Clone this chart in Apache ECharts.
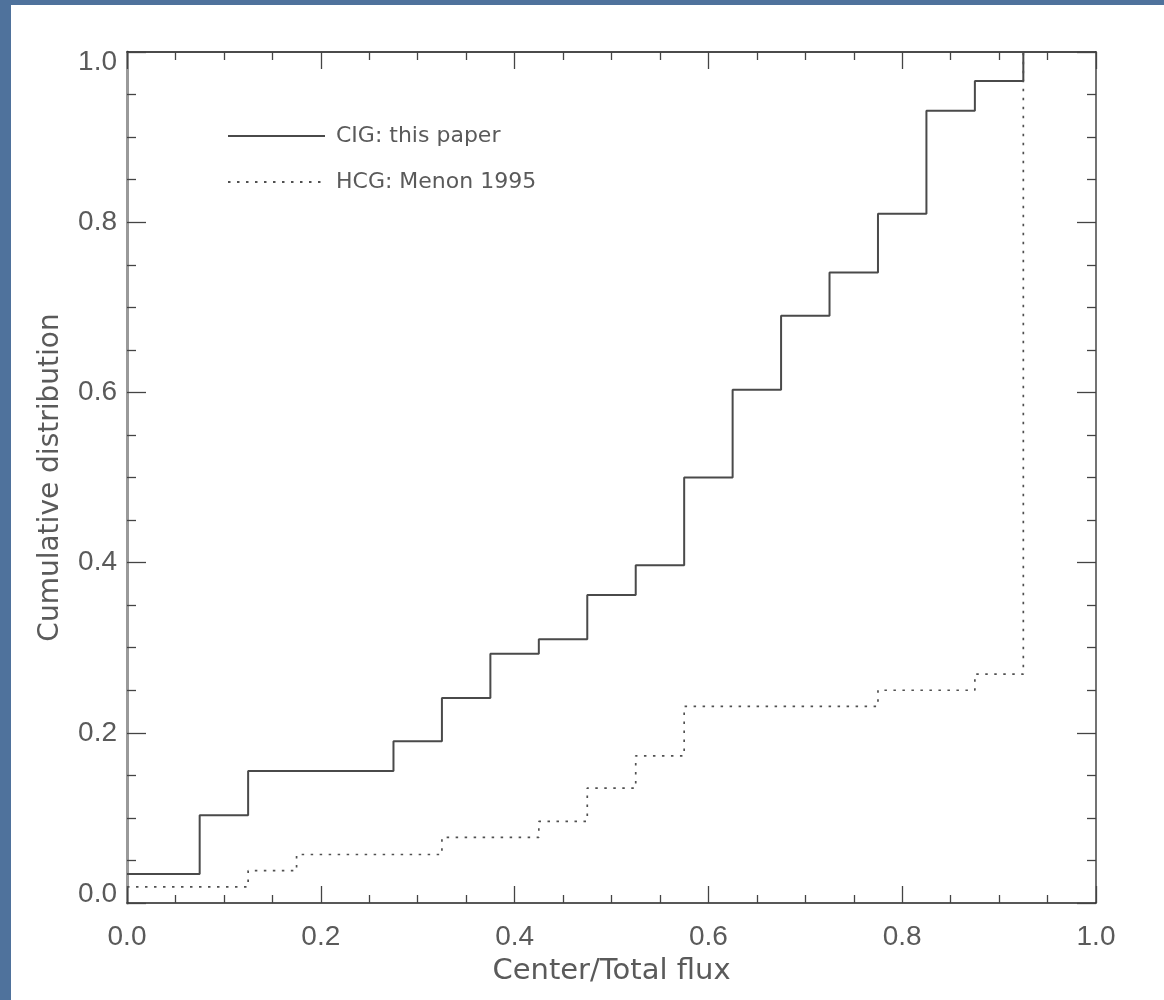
<!DOCTYPE html>
<html>
<head>
<meta charset="utf-8">
<script src="https://cdn.jsdelivr.net/npm/echarts@6/dist/echarts.min.js"></script>
<style>
  html, body { margin: 0; padding: 0; background: #4f729c; }
  #chart { width: 1164px; height: 1000px; }
</style>
</head>
<body>
<div id="chart"></div>
<script>
// ---- data ----
const seriesNames = ['CIG: this paper', 'HCG: Menon 1995'];
// step edges (x) and cumulative level reached at each edge
const cigEdges  = [0, 0.075, 0.125, 0.275, 0.325, 0.375, 0.425, 0.475, 0.525, 0.575, 0.625, 0.675, 0.725, 0.775, 0.825, 0.875, 0.925];
const cigValues = [0.034, 0.103, 0.155, 0.190, 0.241, 0.293, 0.310, 0.362, 0.397, 0.500, 0.603, 0.690, 0.741, 0.810, 0.931, 0.966, 1.000];
const hcgEdges  = [0, 0.125, 0.175, 0.325, 0.425, 0.475, 0.525, 0.575, 0.775, 0.875, 0.925];
const hcgValues = [0.019, 0.038, 0.057, 0.077, 0.096, 0.135, 0.173, 0.231, 0.250, 0.269, 1.000];
const xTickLabels = ['0.0', '0.2', '0.4', '0.6', '0.8', '1.0'];
const yTickLabels = ['0.0', '0.2', '0.4', '0.6', '0.8', '1.0'];
const xAxisTitle = 'Center/Total flux';
const yAxisTitle = 'Cumulative distribution';

const toPoints = (xs, ys) => xs.map((x, i) => [x, ys[i]]);
const labelFor = (arr, v) => arr[Math.round(v / 0.2)];

const chart = echarts.init(document.getElementById('chart'), null, { renderer: 'canvas' });

const textColor = '#5a5a5a';
const tickFont = "'Liberation Sans', Arial, sans-serif";
const titleFont = "'DejaVu Sans', sans-serif";

const hiddenAxisCommon = {
  min: 0, max: 1, interval: 0.2,
  axisLabel: { show: false },
  splitLine: { show: false },
};

chart.setOption({
  backgroundColor: '#4f729c',
  animation: false,
  graphic: [{
    type: 'rect', z: -10, silent: true,
    shape: { x: 11, y: 5, width: 1160, height: 1000 },
    style: { fill: '#ffffff' }
  }],
  grid: { left: 127, right: 68, top: 52, bottom: 97, containLabel: false },
  legend: {
    orient: 'vertical',
    left: 222, top: 120,
    itemWidth: 97, itemHeight: 14, itemGap: 24,
    itemStyle: { opacity: 0, color: 'rgba(0,0,0,0)', borderWidth: 0 },
    textStyle: { fontFamily: titleFont, fontSize: 22, color: textColor, padding: [0, 0, 0, 6] },
    data: seriesNames,
  },
  xAxis: [{
    type: 'value', min: 0, max: 1, interval: 0.2, position: 'bottom',
    name: xAxisTitle, nameLocation: 'middle', nameGap: 54,
    nameTextStyle: { fontFamily: titleFont, fontSize: 29, color: textColor },
    axisLine: { show: true, onZero: false, lineStyle: { color: '#222', width: 1.5 } },
    axisTick: { show: true, inside: true, length: 17, lineStyle: { color: '#444', width: 1.3 } },
    minorTick: { show: true, splitNumber: 4, length: 8, lineStyle: { color: '#444', width: 1.3 } },
    axisLabel: { margin: 20, fontFamily: tickFont, fontSize: 28, color: textColor,
                 formatter: v => labelFor(xTickLabels, v) },
    splitLine: { show: false },
  }, Object.assign({}, hiddenAxisCommon, {
    type: 'value', position: 'top',
    axisLine: { show: true, onZero: false, lineStyle: { color: '#111', width: 1.5 } },
    axisTick: { show: true, inside: true, length: 17, lineStyle: { color: '#444', width: 1.3 } },
    minorTick: { show: true, splitNumber: 4, length: 8, lineStyle: { color: '#444', width: 1.3 } },
  })],
  yAxis: [{
    type: 'value', min: 0, max: 1, interval: 0.2, position: 'left',
    name: yAxisTitle, nameLocation: 'middle', nameGap: 62, nameRotate: 90,
    nameTextStyle: { fontFamily: titleFont, fontSize: 28, color: textColor },
    axisLine: { show: true, onZero: false, lineStyle: { color: '#9a9a9a', width: 3 } },
    axisTick: { show: true, inside: true, length: 19, lineStyle: { color: '#444', width: 1.3 } },
    minorTick: { show: true, splitNumber: 4, length: 9, lineStyle: { color: '#444', width: 1.3 } },
    axisLabel: {
      margin: 10, fontFamily: tickFont, fontSize: 28, color: textColor,
      formatter: v => {
        const t = labelFor(yTickLabels, v);
        if (v === 0) return '{lo|' + t + '}';
        if (v === 1) return '{hi|' + t + '}';
        return '{n|' + t + '}';
      },
      rich: {
        lo: { fontFamily: tickFont, fontSize: 28, color: textColor, padding: [0, 0, 18, 0] },
        hi: { fontFamily: tickFont, fontSize: 28, color: textColor, padding: [20, 0, 0, 0] },
        n:  { fontFamily: tickFont, fontSize: 28, color: textColor }
      }
    },
    splitLine: { show: false },
  }, Object.assign({}, hiddenAxisCommon, {
    type: 'value', position: 'right',
    axisLine: { show: true, onZero: false, lineStyle: { color: '#444', width: 1.5 } },
    axisTick: { show: true, inside: true, length: 19, lineStyle: { color: '#444', width: 1.3 } },
    minorTick: { show: true, splitNumber: 4, length: 9, lineStyle: { color: '#444', width: 1.3 } },
  })],
  series: [{
    name: seriesNames[0], type: 'line', step: 'end',
    xAxisIndex: 0, yAxisIndex: 0,
    symbol: 'none', showSymbol: false,
    data: toPoints(cigEdges, cigValues),
    lineStyle: { color: '#4a4a4a', width: 2, type: 'solid' },
    itemStyle: { color: '#4a4a4a' },
  }, {
    name: seriesNames[1], type: 'line', step: 'end',
    xAxisIndex: 0, yAxisIndex: 0,
    symbol: 'none', showSymbol: false,
    data: toPoints(hcgEdges, hcgValues),
    lineStyle: { color: '#505050', width: 1.7, type: [2.5, 6.5] },
    itemStyle: { color: '#505050' },
  }]
});
</script>
</body>
</html>
